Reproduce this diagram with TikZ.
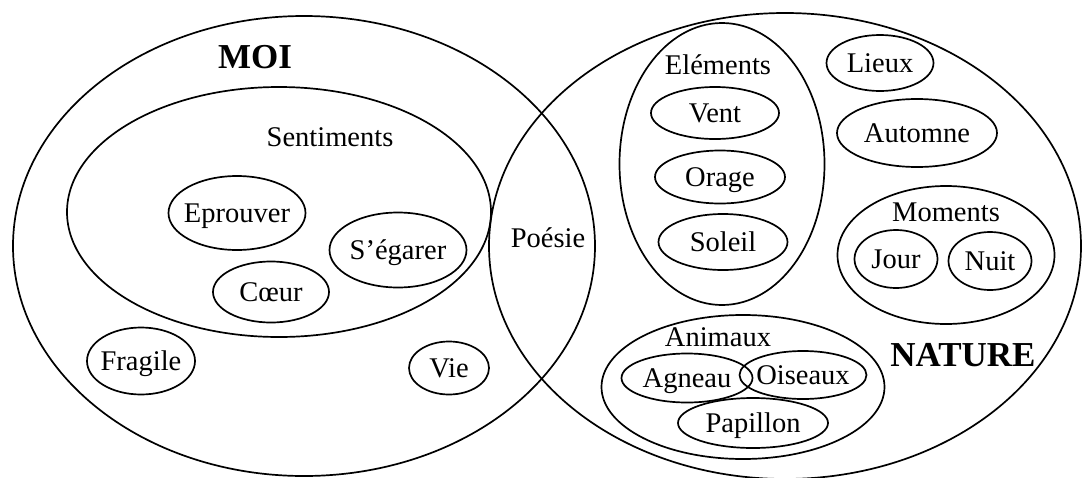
\documentclass[tikz,border=0pt]{standalone}
\usepackage{fontspec}
\setmainfont{Liberation Serif}
\usetikzlibrary{shapes.geometric}
\newcommand{\wordfont}{\fontsize{28.5}{32}\selectfont}
\newcommand{\titlefont}{\fontsize{35}{40}\selectfont\bfseries}
\tikzset{
  bub/.style={draw, ellipse, inner sep=0pt, line width=1.7pt},
  word/.style={font=\wordfont, inner sep=0pt, text height=19pt, text depth=0pt},
  heading/.style={font=\titlefont, inner sep=0pt, text height=23pt, text depth=0pt},
  every label/.style={font=\wordfont, inner sep=0pt, text height=19pt, text depth=0pt}
}
\begin{document}
\begin{tikzpicture}[x=1pt, y=-1pt]
\useasboundingbox (0,0) rectangle (1082,477);
\begin{scope}
\clip (0,0) rectangle (1082,477);
% the two big sets
\node[bub, minimum width=582pt, minimum height=460pt] (moi) at (304,246) {};
\node[bub, minimum width=592pt, minimum height=466pt] (nature) at (785,246) {};
\end{scope}
\node[heading] (moit) at (255,57) {MOI};
\node[heading] (naturet) at (963,355) {NATURE};
\node[word] (poesie) at (548,238) {Poésie};

% MOI side
\node[bub, minimum width=424pt, minimum height=250pt] (sent) at (279,212) {};
\node[word] (sentt) at (330,137) {Sentiments};
\node[bub, minimum width=137pt, minimum height=74pt, label=center:Eprouver] (epr) at (237,213) {};
\node[bub, minimum width=137pt, minimum height=75pt, label=center:S’égarer] (ega) at (398,250) {};
\node[bub, minimum width=116pt, minimum height=61pt, label=center:Cœur] (coeur) at (271,292) {};
\node[bub, minimum width=108pt, minimum height=67pt, label=center:Fragile] (frag) at (141,361) {};
\node[bub, minimum width=80pt, minimum height=53pt, label=center:Vie] (vie) at (449,368) {};

% NATURE side
\node[bub, minimum width=205pt, minimum height=282pt] (elem) at (722,164) {};
\node[word] (elemt) at (718,65) {Eléments};
\node[bub, minimum width=128pt, minimum height=52pt, label=center:Vent] (vent) at (715,113) {};
\node[bub, minimum width=130pt, minimum height=53pt, label=center:Orage] (orage) at (720,177) {};
\node[bub, minimum width=129pt, minimum height=56pt, label=center:Soleil] (soleil) at (723,242) {};
\node[bub, minimum width=107pt, minimum height=56pt, label=center:Lieux] (lieux) at (880,63) {};
\node[bub, minimum width=160pt, minimum height=68pt, label=center:Automne] (automne) at (917,133) {};
\node[bub, minimum width=217pt, minimum height=138pt] (mom) at (946,255) {};
\node[word] (momt) at (946,212) {Moments};
\node[bub, minimum width=83pt, minimum height=58pt, label=center:Jour] (jour) at (896,259) {};
\node[bub, minimum width=83pt, minimum height=58pt, label=center:Nuit] (nuit) at (990,261) {};
\node[bub, minimum width=283pt, minimum height=144pt] (anim) at (743,387) {};
\node[word] (animt) at (718,337) {Animaux};
\node[bub, minimum width=131pt, minimum height=49pt, label=center:Agneau] (agneau) at (687,378) {};
\node[bub, minimum width=127pt, minimum height=48pt, label=center:Oiseaux] (ois) at (803,375) {};
\node[bub, minimum width=150pt, minimum height=50pt, label=center:Papillon] (pap) at (753,423) {};
\end{tikzpicture}
\end{document}
